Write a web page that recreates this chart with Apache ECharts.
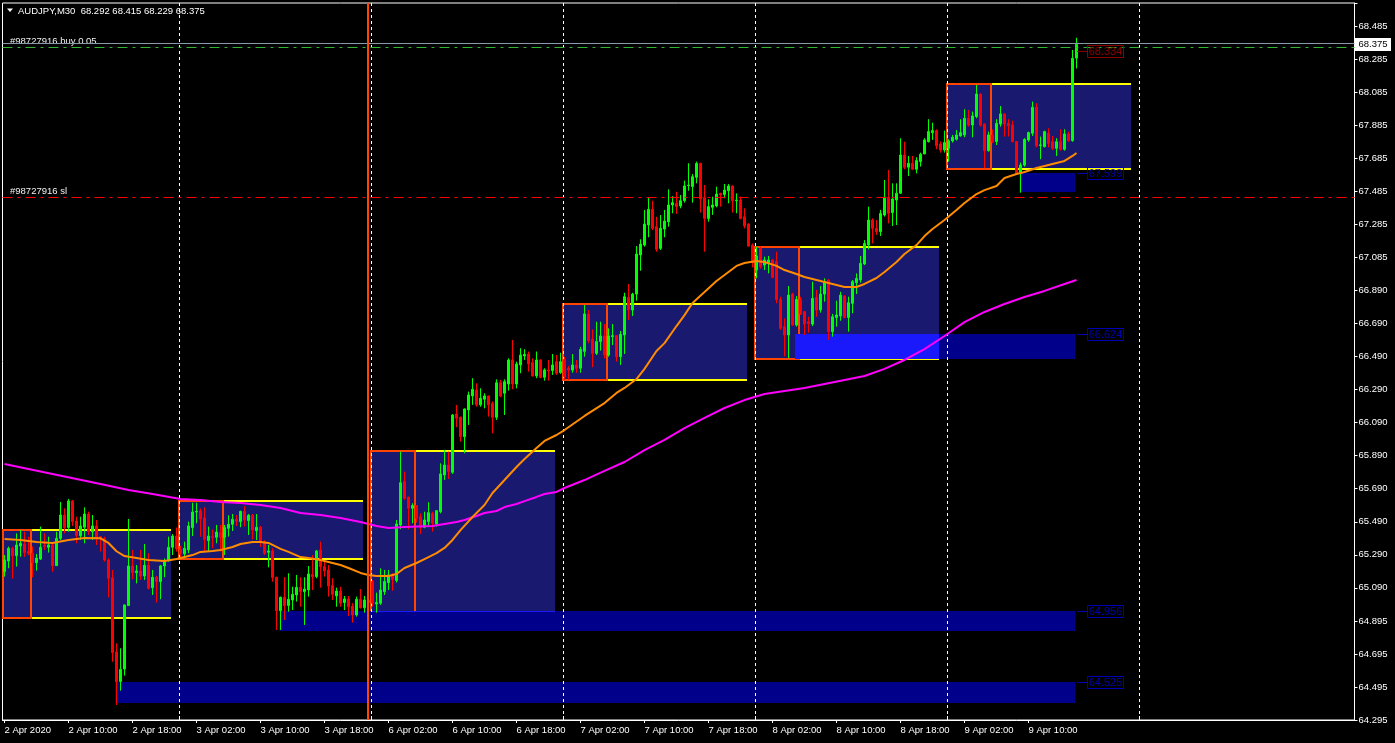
<!DOCTYPE html>
<html><head><meta charset="utf-8">
<script src="https://cdn.jsdelivr.net/npm/echarts@6/dist/echarts.min.js"></script>
<style>html,body{margin:0;padding:0;background:#000;overflow:hidden}#c{width:1395px;height:743px}</style>
</head><body><div id="c"></div>
<script>
// ---- DATA (AUDJPY M30) ----
const opens = [
65.191,65.255,65.332,65.287,65.346,65.358,65.312,65.302,65.245,65.267,
65.350,65.338,65.352,65.227,65.392,65.533,65.457,65.618,65.497,65.408,
65.459,65.539,65.432,65.467,65.402,65.392,65.261,65.153,64.706,64.527,
64.603,64.986,65.225,65.185,65.195,65.165,65.229,65.094,65.157,65.131,
65.225,65.257,65.338,65.406,65.326,65.298,65.322,65.457,65.551,65.559,
65.515,65.378,65.402,65.398,65.426,65.398,65.453,65.477,65.507,65.493,
65.555,65.499,65.531,65.438,65.459,65.366,65.308,65.316,65.157,64.955,
65.036,64.986,65.020,65.050,65.096,65.070,65.080,65.173,65.161,65.322,
65.221,65.201,65.106,65.044,65.074,65.004,65.026,64.983,64.929,65.024,
64.973,65.020,65.131,64.996,65.000,65.070,65.125,65.171,65.137,65.473,
65.735,65.640,65.574,65.590,65.523,65.459,65.493,65.543,65.479,65.553,
65.775,65.835,65.791,66.143,66.123,66.006,66.167,66.252,66.288,66.198,
66.232,66.252,66.208,66.123,66.332,66.268,66.324,66.469,66.324,66.439,
66.493,66.505,66.453,66.373,66.469,66.365,66.409,66.405,66.459,66.393,
66.473,66.419,66.408,66.439,66.419,66.521,66.747,66.594,66.509,66.580,
66.614,66.499,66.610,66.616,66.489,66.620,66.847,66.771,66.867,67.103,
67.163,67.284,67.379,67.274,67.143,67.260,67.304,67.405,67.415,67.399,
67.431,67.522,67.516,67.572,67.656,67.449,67.324,67.391,67.399,67.475,
67.469,67.491,67.520,67.431,67.435,67.334,67.290,67.163,67.012,67.143,
67.042,67.057,67.073,67.063,66.835,66.670,66.620,66.867,66.680,66.835,
66.761,66.700,66.686,66.847,66.771,66.867,66.952,66.640,66.726,66.735,
66.855,66.726,66.811,66.936,66.952,67.049,67.163,67.314,67.264,67.244,
67.345,67.451,67.359,67.435,67.476,67.707,67.633,67.657,67.621,67.667,
67.713,67.788,67.842,67.854,67.774,67.737,67.747,67.792,67.802,67.822,
67.828,67.929,67.888,67.939,68.075,67.894,67.733,67.828,67.788,67.894,
67.955,67.898,67.888,67.788,67.596,67.646,67.797,67.838,67.995,67.764,
67.757,67.838,67.787,67.747,67.787,67.741,67.834,67.793,68.292];
const highs = [
65.291,65.342,65.342,65.422,65.442,65.432,65.402,65.342,65.298,65.463,
65.422,65.402,65.362,65.432,65.612,65.573,65.630,65.622,65.523,65.523,
65.579,65.553,65.533,65.503,65.404,65.402,65.271,65.201,64.758,64.728,
64.992,65.509,65.322,65.231,65.322,65.358,65.302,65.201,65.165,65.231,
65.271,65.402,65.418,65.457,65.346,65.372,65.493,65.607,65.607,65.573,
65.579,65.463,65.446,65.473,65.473,65.473,65.531,65.539,65.533,65.559,
65.587,65.539,65.539,65.539,65.467,65.380,65.352,65.332,65.160,65.040,
65.157,65.181,65.100,65.171,65.157,65.157,65.225,65.291,65.322,65.372,
65.255,65.231,65.151,65.094,65.100,65.044,65.044,65.000,65.040,65.086,
65.044,65.044,65.141,65.064,65.211,65.201,65.201,65.181,65.503,65.916,
65.795,65.644,65.604,65.592,65.543,65.553,65.610,65.553,65.563,65.845,
65.926,65.916,66.143,66.198,66.127,66.177,66.278,66.359,66.328,66.298,
66.268,66.254,66.218,66.352,66.348,66.352,66.479,66.590,66.459,66.540,
66.534,66.520,66.479,66.520,66.473,66.419,66.469,66.505,66.499,66.513,
66.489,66.433,66.505,66.469,66.549,66.801,66.771,66.654,66.700,66.700,
66.686,66.660,66.686,66.620,66.644,66.875,66.928,66.875,67.157,67.198,
67.375,67.451,67.431,67.334,67.344,67.375,67.499,67.459,67.485,67.465,
67.552,67.657,67.592,67.667,67.660,67.526,67.439,67.455,67.516,67.479,
67.532,67.532,67.522,67.475,67.455,67.385,67.294,67.173,67.153,67.153,
67.093,67.097,67.077,67.123,66.851,66.720,66.916,66.875,66.855,66.851,
66.763,66.730,66.942,66.892,66.916,66.962,66.956,66.747,66.827,66.881,
66.861,66.851,66.952,66.992,67.097,67.193,67.395,67.324,67.314,67.375,
67.556,67.617,67.536,67.536,67.808,67.787,67.701,67.701,67.693,67.721,
67.808,67.923,67.902,67.862,67.788,67.854,67.802,67.828,67.858,67.923,
67.983,67.979,67.969,68.130,68.077,67.896,67.848,67.862,67.923,68.003,
67.957,67.923,67.914,67.790,67.661,67.808,67.848,68.029,68.019,67.818,
67.854,67.868,67.822,67.808,67.862,67.862,67.848,68.341,68.415];
const lows = [
65.161,65.211,65.149,65.221,65.281,65.281,65.291,65.157,65.197,65.261,
65.322,65.306,65.191,65.225,65.382,65.422,65.432,65.467,65.362,65.382,
65.362,65.412,65.382,65.352,65.312,65.251,65.036,64.647,64.386,64.472,
64.563,64.986,65.145,65.120,65.141,65.141,65.084,65.050,65.004,65.024,
65.157,65.251,65.291,65.312,65.271,65.271,65.302,65.406,65.483,65.402,
65.312,65.312,65.332,65.362,65.312,65.291,65.402,65.436,65.467,65.459,
65.463,65.412,65.386,65.382,65.340,65.292,65.217,65.130,64.839,64.839,
64.899,64.949,64.959,65.010,64.979,64.869,65.040,65.080,65.151,65.094,
65.161,65.040,65.020,64.979,64.979,64.959,64.923,64.883,64.919,64.969,
64.943,64.949,64.980,64.943,64.990,65.050,65.080,65.076,65.125,65.447,
65.624,65.447,65.483,65.487,65.419,65.453,65.467,65.433,65.463,65.543,
65.745,65.751,65.781,66.063,65.976,65.906,66.077,66.198,66.187,66.187,
66.177,66.127,66.026,66.107,66.244,66.137,66.284,66.292,66.298,66.389,
66.469,66.399,66.369,66.359,66.359,66.344,66.344,66.379,66.379,66.385,
66.348,66.348,66.392,66.392,66.392,66.489,66.570,66.425,66.499,66.525,
66.479,66.489,66.559,66.459,66.439,66.505,66.710,66.735,66.827,67.008,
67.153,67.210,67.254,67.123,67.133,67.210,67.274,67.355,67.351,67.385,
67.419,67.491,67.419,67.536,67.359,67.123,67.304,67.345,67.391,67.395,
67.445,67.415,67.359,67.355,67.318,67.264,67.153,67.028,66.962,67.022,
67.012,66.992,66.962,66.811,66.650,66.490,66.480,66.674,66.670,66.741,
66.620,66.634,66.674,66.730,66.755,66.821,66.590,66.610,66.670,66.706,
66.720,66.640,66.751,66.867,66.936,67.042,67.137,67.173,67.224,67.218,
67.335,67.294,67.278,67.284,67.472,67.621,67.580,67.617,67.596,67.637,
67.713,67.782,67.798,67.741,67.721,67.721,67.667,67.782,67.794,67.818,
67.814,67.878,67.814,67.929,67.878,67.627,67.727,67.778,67.767,67.878,
67.818,67.818,67.782,67.592,67.479,67.636,67.787,67.822,67.753,67.681,
67.753,67.753,67.737,67.701,67.733,67.733,67.787,67.787,68.229];
const closes = [
65.261,65.332,65.287,65.352,65.362,65.306,65.302,65.245,65.273,65.338,
65.342,65.352,65.227,65.392,65.533,65.457,65.618,65.493,65.408,65.467,
65.539,65.432,65.467,65.392,65.390,65.261,65.151,64.702,64.527,64.601,
64.990,65.225,65.185,65.195,65.165,65.229,65.090,65.157,65.131,65.225,
65.255,65.338,65.406,65.328,65.302,65.332,65.467,65.551,65.555,65.509,
65.386,65.406,65.398,65.430,65.398,65.457,65.477,65.507,65.495,65.555,
65.503,65.531,65.442,65.459,65.366,65.302,65.316,65.155,64.955,65.036,
64.986,65.024,65.054,65.096,65.070,65.086,65.177,65.161,65.316,65.221,
65.195,65.104,65.054,65.074,65.000,65.026,64.979,64.929,65.024,64.973,
65.020,65.004,65.000,65.004,65.080,65.131,65.171,65.145,65.479,65.728,
65.634,65.574,65.590,65.513,65.459,65.503,65.547,65.483,65.559,65.781,
65.835,65.795,66.137,66.117,66.006,66.173,66.258,66.292,66.198,66.238,
66.252,66.198,66.123,66.332,66.252,66.338,66.469,66.324,66.445,66.499,
66.503,66.445,66.373,66.469,66.365,66.409,66.403,66.439,66.389,66.459,
66.368,66.408,66.439,66.419,66.533,66.747,66.586,66.509,66.580,66.614,
66.499,66.614,66.616,66.489,66.624,66.851,66.771,66.867,67.109,67.169,
67.290,67.379,67.264,67.137,67.264,67.308,67.405,67.419,67.395,67.431,
67.520,67.526,67.576,67.656,67.441,67.324,67.395,67.405,67.471,67.465,
67.495,67.520,67.431,67.435,67.324,67.278,67.157,67.057,67.097,67.032,
67.073,67.073,66.968,66.835,66.660,66.620,66.861,66.680,66.835,66.747,
66.686,66.690,66.841,66.771,66.867,66.942,66.640,66.730,66.741,66.861,
66.726,66.815,66.942,66.962,67.053,67.173,67.314,67.264,67.244,67.354,
67.451,67.355,67.441,67.476,67.707,67.633,67.657,67.621,67.673,67.711,
67.798,67.848,67.854,67.762,67.737,67.782,67.792,67.814,67.828,67.842,
67.929,67.888,67.943,68.075,67.888,67.733,67.828,67.788,67.898,67.955,
67.894,67.884,67.788,67.596,67.646,67.801,67.842,67.995,67.762,67.768,
67.848,67.777,67.747,67.787,67.741,67.834,67.793,68.291,68.375];

// moving averages: [bar index, value]
const orangeMA = [[0,65.388],[4,65.382],[8,65.370],[12,65.364],[16,65.382],[20,65.394],[24,65.392],[26,65.364],[28,65.314],[30,65.285],[33,65.273],[36,65.261],[40,65.255],[43,65.267],[45,65.279],[47,65.291],[49,65.310],[52,65.316],[54,65.322],[57,65.340],[59,65.358],[62,65.370],[64,65.370],[66,65.364],[69,65.328],[71,65.310],[74,65.279],[76,65.273],[79,65.261],[81,65.249],[84,65.231],[86,65.213],[89,65.183],[91,65.171],[93,65.165],[96,65.165],[98,65.177],[100,65.213],[103,65.243],[105,65.267],[108,65.303],[110,65.334],[112,65.382],[114,65.442],[117,65.521],[120,65.593],[122,65.666],[125,65.744],[128,65.823],[130,65.871],[133,65.937],[135,65.980],[138,66.016],[140,66.046],[145,66.131],[150,66.209],[153,66.270],[155,66.300],[158,66.354],[160,66.415],[163,66.523],[165,66.571],[168,66.674],[170,66.740],[172,66.813],[175,66.879],[178,66.946],[180,66.982],[183,67.037],[185,67.055],[188,67.067],[190,67.061],[193,67.037],[195,67.012],[198,66.988],[200,66.970],[203,66.952],[205,66.940],[208,66.922],[210,66.910],[213,66.910],[215,66.928],[218,66.964],[220,67.000],[223,67.061],[225,67.109],[228,67.163],[230,67.217],[232,67.260],[235,67.314],[238,67.375],[240,67.417],[243,67.471],[245,67.495],[248,67.520],[250,67.568],[253,67.592],[255,67.604],[258,67.628],[260,67.640],[263,67.659],[265,67.671],[267,67.701],[268,67.719]];
const magentaMA = [[0,65.841],[12,65.781],[24,65.720],[31,65.684],[37,65.660],[44,65.630],[49,65.624],[54,65.611],[59,65.605],[64,65.593],[69,65.575],[74,65.545],[79,65.533],[84,65.515],[89,65.491],[93,65.467],[96,65.454],[100,65.460],[107,65.467],[110,65.479],[113,65.491],[115,65.503],[118,65.527],[120,65.545],[123,65.557],[125,65.581],[128,65.599],[130,65.617],[133,65.642],[135,65.660],[138,65.672],[140,65.696],[145,65.744],[150,65.799],[155,65.853],[160,65.925],[165,65.986],[170,66.058],[175,66.119],[180,66.179],[185,66.227],[190,66.264],[195,66.282],[200,66.300],[205,66.324],[210,66.348],[215,66.372],[220,66.415],[225,66.469],[230,66.535],[235,66.614],[240,66.698],[245,66.759],[250,66.807],[255,66.849],[260,66.886],[265,66.928],[268,66.952]];

// tick labels
const xTickLabels = ['2 Apr 2020','2 Apr 10:00','2 Apr 18:00','3 Apr 02:00','3 Apr 10:00','3 Apr 18:00','6 Apr 02:00','6 Apr 10:00','6 Apr 18:00','7 Apr 02:00','7 Apr 10:00','7 Apr 18:00','8 Apr 02:00','8 Apr 10:00','8 Apr 18:00','9 Apr 02:00','9 Apr 10:00'];
const priceLabels = ['64.295','64.495','64.695','64.895','65.090','65.290','65.490','65.690','65.890','66.090','66.290','66.490','66.690','66.890','67.085','67.285','67.485','67.685','67.885','68.085','68.285','68.485'];

// session boxes (bar index range, session end, price range)
const boxStart = [-4, 44, 92, 140, 188, 236];
const boxEnd = [42, 90, 138, 186, 234, 282];
const boxSessionEnd = [7, 55, 103, 151, 199, 247];
const boxTop = [65.444, 65.617, 65.922, 66.810, 67.151, 68.136];
const boxBottom = [64.913, 65.270, 64.945, 66.350, 66.475, 67.622];

// zones
const zoneStart = [28, 69, 198, 254];
const zoneEnd = [268, 268, 268, 268];
const zoneTop = [64.525, 64.956, 66.624, 67.599];
const zoneBottom = [64.396, 64.832, 66.475, 67.483];

// price level labels
const levelTexts = ['68.334', '67.599', '66.624', '64.956', '64.525'];
const levelPrices = [68.334, 67.599, 66.624, 64.956, 64.525];
const levelColors = ['#8c0000', '#0000b4', '#0000b4', '#0000b4', '#0000b4'];

const daySeparators = [44, 92, 140, 188, 236, 284];
const verticalLineBar = 91;
const lastBar = 268;
const bidPrice = 68.375, orderPrice = 68.357, slPrice = 67.451;
const titleText = 'AUDJPY,M30  68.292 68.415 68.229 68.375';
const orderText = '#98727916 buy 0.05';
const slText = '#98727916 sl';
const bidText = '68.375';

// ---- categories: M30 bars from 2 Apr 2020 02:00, weekend skipped ----
const TOTAL_SLOTS = 338;
const categories = [];
(function () {
  const mon = ['Jan','Feb','Mar','Apr','May','Jun','Jul','Aug','Sep','Oct','Nov','Dec'];
  let t = Date.UTC(2020, 3, 2, 2, 0);
  while (categories.length < TOTAL_SLOTS) {
    const d = new Date(t);
    const w = d.getUTCDay();
    if (w !== 0 && w !== 6) {
      const hh = String(d.getUTCHours()).padStart(2, '0');
      const mm = String(d.getUTCMinutes()).padStart(2, '0');
      categories.push(d.getUTCDate() + ' ' + mon[d.getUTCMonth()] + ' ' + hh + ':' + mm);
    }
    t += 30 * 60000;
  }
})();

const FONT = 'Liberation Sans';
const PRICE_MIN = 64.295, PRICE_STEP = 0.1995, PRICE_MAX = 68.6247;

const chart = echarts.init(document.getElementById('c'), null, { renderer: 'canvas' });
const candleData = opens.map((o, i) => [o, closes[i], lows[i], highs[i]]);
const showX = (i) => i % 16 === 0 && i / 16 < xTickLabels.length;
const R = Math.round;

function boxRect(k, api) {
  const s = Math.max(boxStart[k], 0);
  const p1 = api.coord([s, boxTop[k]]);
  const p2 = api.coord([boxEnd[k], boxBottom[k]]);
  return { x1: R(p1[0] - 1.5), x2: R(p2[0] - 1.5), y1: R(p1[1]), y2: R(p2[1]) };
}

const option = {
  animation: false,
  backgroundColor: '#000',
  textStyle: { fontFamily: FONT },
  grid: { left: 2.5, right: 40.5, top: 3, bottom: 23, show: true, borderColor: '#fff', borderWidth: 1, backgroundColor: '#000', outerBoundsMode: 'none', containLabel: false },
  xAxis: {
    type: 'category', data: categories, boundaryGap: true,
    axisLine: { lineStyle: { color: '#fff', width: 1 } },
    axisTick: { show: true, interval: showX, alignWithLabel: true, length: 3, lineStyle: { color: '#fff' } },
    axisLabel: { interval: showX, formatter: (v, i) => xTickLabels[i / 16] || '', align: 'left', color: '#fff', fontSize: 9.5, fontFamily: FONT, margin: 5, hideOverlap: false },
    splitLine: { show: false }
  },
  yAxis: {
    type: 'value', position: 'right', min: PRICE_MIN, max: PRICE_MAX, interval: PRICE_STEP, scale: true,
    axisLine: { show: true, lineStyle: { color: '#fff', width: 1 } },
    axisTick: { show: true, length: 3, lineStyle: { color: '#fff' } },
    axisLabel: {
      color: '#fff', fontSize: 9.5, fontFamily: FONT, margin: 4, showMinLabel: true, showMaxLabel: true, hideOverlap: false,
      formatter: (v) => {
        const k = Math.round((v - PRICE_MIN) / PRICE_STEP);
        if (k >= 0 && k < priceLabels.length && Math.abs(v - (PRICE_MIN + k * PRICE_STEP)) < 0.02) return priceLabels[k];
        return '';
      }
    },
    splitLine: { show: false }
  },
  series: [
    { // session boxes
      type: 'custom', name: 'boxes', z: 1, silent: true, clip: false,
      data: boxStart.map((s, k) => [Math.max(s, 0), boxTop[k]]),
      renderItem: (params, api) => {
        const k = params.dataIndex;
        const r = boxRect(k, api);
        const ps = api.coord([boxSessionEnd[k], boxBottom[k]]);
        const xs = R(ps[0] - 1.5);
        return { type: 'group', children: [
          { type: 'rect', shape: { x: r.x1, y: r.y1, width: r.x2 - r.x1, height: r.y2 - r.y1 }, style: { fill: '#191970' } },
          { type: 'line', shape: { x1: r.x1, y1: r.y1, x2: r.x2, y2: r.y1 }, style: { stroke: '#ffff00', lineWidth: 2 } },
          { type: 'line', shape: { x1: r.x1, y1: r.y2, x2: r.x2, y2: r.y2 }, style: { stroke: '#ffff00', lineWidth: 2 } },
          { type: 'rect', shape: { x: r.x1, y: r.y1, width: xs - r.x1, height: r.y2 - r.y1 }, style: { fill: 'none', stroke: '#ff4500', lineWidth: 2 } }
        ] };
      }
    },
    { // zones
      type: 'custom', name: 'zones', z: 2, silent: true, clip: false,
      data: zoneStart.map((s, k) => [s, zoneTop[k]]),
      renderItem: (params, api) => {
        const k = params.dataIndex;
        const p1 = api.coord([zoneStart[k], zoneTop[k]]);
        const p2 = api.coord([zoneEnd[k], zoneBottom[k]]);
        const x1 = R(p1[0] - 1.5), x2 = R(p2[0] - 1.5), y1 = R(p1[1]), y2 = R(p2[1]);
        const children = [{ type: 'rect', shape: { x: x1, y: y1, width: x2 - x1, height: y2 - y1 }, style: { fill: '#00008b' } }];
        for (let b = 0; b < boxStart.length; b++) {
          const r = boxRect(b, api);
          const ix1 = Math.max(x1, r.x1), ix2 = Math.min(x2, r.x2);
          const iy1 = Math.max(y1, r.y1), iy2 = Math.min(y2, r.y2);
          if (ix2 > ix1 && iy2 > iy1) children.push({ type: 'rect', shape: { x: ix1, y: iy1, width: ix2 - ix1, height: iy2 - iy1 }, style: { fill: '#1919fb' } });
        }
        return { type: 'group', children };
      }
    },
    { // day separators
      type: 'custom', name: 'separators', z: 3, silent: true, clip: false,
      data: daySeparators.map((s) => [s, PRICE_MIN]),
      renderItem: (params, api) => {
        const cs = params.coordSys;
        const x = R(api.coord([daySeparators[params.dataIndex], PRICE_MIN])[0] - 1.5) + 0.5;
        return { type: 'group', children: [
          { type: 'line', shape: { x1: x, y1: cs.y, x2: x, y2: cs.y + cs.height }, style: { stroke: '#fff', lineWidth: 1, lineDash: [3, 3] } },
          { type: 'line', shape: { x1: x, y1: cs.y + cs.height - 4, x2: x, y2: cs.y + cs.height }, style: { stroke: '#fff', lineWidth: 1 } }
        ] };
      }
    },
    {
      type: 'candlestick', name: 'AUDJPY', z: 4, data: candleData, barWidth: 2, silent: true,
      itemStyle: { color: '#00ff00', color0: '#ff0000', borderColor: '#00ff00', borderColor0: '#ff0000', borderColorDoji: '#00ff00', borderWidth: 1 },
      markLine: {
        silent: true, symbol: ['none', 'none'], label: { show: false }, animation: false,
        data: [
          { yAxis: bidPrice, lineStyle: { color: '#8a9aa8', width: 1, type: 'solid' } },
          { yAxis: orderPrice, lineStyle: { color: '#32b432', width: 1, type: [10, 5, 3, 5] } },
          { yAxis: slPrice, lineStyle: { color: '#ff0000', width: 1, type: [10, 5, 3, 5] } }
        ]
      }
    },
    { type: 'line', name: 'MA200', z: 5, data: magentaMA, showSymbol: false, silent: true, lineStyle: { color: '#ff00ff', width: 2 } },
    { type: 'line', name: 'MA', z: 5, data: orangeMA, showSymbol: false, silent: true, lineStyle: { color: '#ff8c00', width: 2 } },
    { // vertical line object
      type: 'custom', name: 'vline', z: 6, silent: true, clip: false,
      data: [[verticalLineBar, PRICE_MIN]],
      renderItem: (params, api) => {
        const cs = params.coordSys;
        const x = R(api.coord([verticalLineBar, PRICE_MIN])[0] - 0.5);
        return { type: 'line', shape: { x1: x, y1: cs.y, x2: x, y2: cs.y + cs.height }, style: { stroke: '#ff4500', lineWidth: 2 } };
      }
    },
    { // price level labels
      type: 'custom', name: 'levels', z: 7, silent: true, clip: false,
      data: levelPrices.map((p) => [lastBar, p]),
      renderItem: (params, api) => {
        const k = params.dataIndex;
        const p = api.coord([lastBar, levelPrices[k]]);
        const x0 = R(p[0]), y = R(p[1]) + 0.5;
        const c = levelColors[k];
        return { type: 'group', children: [
          { type: 'line', shape: { x1: x0, y1: y, x2: x0 + 11, y2: y }, style: { stroke: c, lineWidth: 1 } },
          { type: 'rect', shape: { x: x0 + 10.5, y: y - 6, width: 36, height: 12 }, style: { fill: 'none', stroke: c, lineWidth: 1 } },
          { type: 'text', x: x0 + 28.5, y: y, style: { text: levelTexts[k], fill: c, font: '11px "Liberation Sans"', align: 'center', verticalAlign: 'middle' } }
        ] };
      }
    }
  ]
};
chart.setOption(option);

const yBid = chart.convertToPixel({ yAxisIndex: 0 }, bidPrice);
const yOrder = chart.convertToPixel({ yAxisIndex: 0 }, orderPrice);
const ySL = chart.convertToPixel({ yAxisIndex: 0 }, slPrice);
chart.setOption({
  graphic: [
    { type: 'polygon', shape: { points: [[7, 8.5], [13, 8.5], [10, 12]] }, style: { fill: '#fff' }, silent: true },
    { type: 'text', x: 18, y: 11, style: { text: titleText, fill: '#fff', font: '9.5px "Liberation Sans"', verticalAlign: 'middle' }, silent: true },
    { type: 'text', x: 10, y: yOrder - 6, style: { text: orderText, fill: '#f0f0f0', font: '9.5px "Liberation Sans"', verticalAlign: 'middle' }, silent: true },
    { type: 'text', x: 10, y: ySL - 6, style: { text: slText, fill: '#f0f0f0', font: '9.5px "Liberation Sans"', verticalAlign: 'middle' }, silent: true },
    { type: 'rect', shape: { x: 1355, y: Math.round(yBid) - 6, width: 36, height: 13 }, style: { fill: '#fff' }, silent: true, z: 100 },
    { type: 'text', x: 1373, y: Math.round(yBid) + 0.5, style: { text: bidText, fill: '#000', font: '9.5px "Liberation Sans"', align: 'center', verticalAlign: 'middle' }, silent: true, z: 101 }
  ]
});
</script>
</body></html>
